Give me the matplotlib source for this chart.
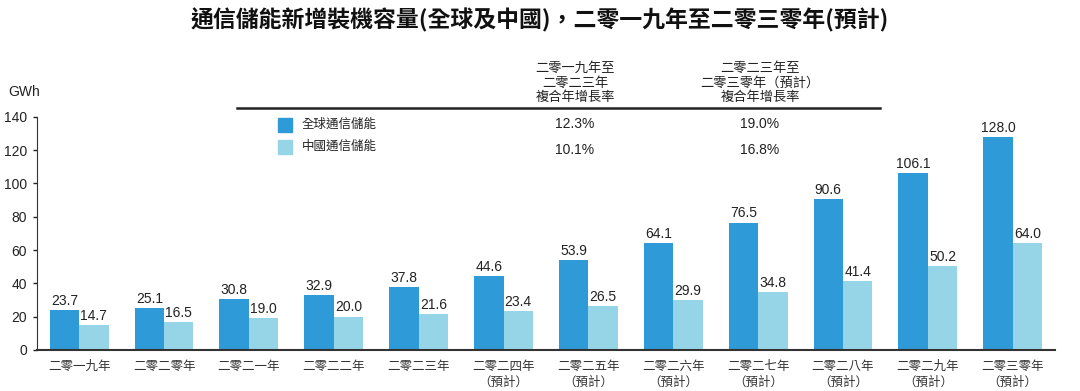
import numpy as np
import matplotlib as mpl
mpl.use('Agg')
import matplotlib.pyplot as plt

plt.rcParams['font.family'] = ['Liberation Sans', 'Noto Sans CJK TC', 'DejaVu Sans']

years = ['二零一九年', '二零二零年', '二零二一年', '二零二二年', '二零二三年',
         '二零二四年\n（預計）', '二零二五年\n（預計）', '二零二六年\n（預計）',
         '二零二七年\n（預計）', '二零二八年\n（預計）', '二零二九年\n（預計）',
         '二零三零年\n（預計）']
global_vals = [23.7, 25.1, 30.8, 32.9, 37.8, 44.6, 53.9, 64.1, 76.5, 90.6, 106.1, 128.0]
china_vals = [14.7, 16.5, 19.0, 20.0, 21.6, 23.4, 26.5, 29.9, 34.8, 41.4, 50.2, 64.0]
series_names = ['全球通信儲能', '中國通信儲能']
cagr_headers = ['二零一九年至\n二零二三年\n複合年增長率', '二零二三年至\n二零三零年（預計）\n複合年增長率']
cagr_global = ['12.3%', '19.0%']
cagr_china = ['10.1%', '16.8%']

c_blue = '#2E9AD7'
c_light = '#96D5E8'
txt = '#222222'

fig = plt.figure(figsize=(10.8, 3.91), dpi=100)
ax = fig.add_axes([0.034, 0.105, 0.943, 0.596])

x = np.arange(len(years))
w = 0.347
ax.bar(x - w/2, global_vals, w, color=c_blue)
ax.bar(x + w/2, china_vals, w, color=c_light)
for i in range(len(x)):
    ax.text(x[i] - w/2, global_vals[i] + 1.3, '%.1f' % global_vals[i], ha='center', va='bottom', fontsize=10, color=txt)
    ax.text(x[i] + w/2, china_vals[i] + 1.3, '%.1f' % china_vals[i], ha='center', va='bottom', fontsize=10, color=txt)

ax.set_xlim(-0.5, 11.5)
ax.set_ylim(0, 140)
ax.set_yticks(range(0, 141, 20))
ax.set_xticks(x)
ax.set_xticklabels(years, fontsize=9, color='#333333', linespacing=1.35)
ax.tick_params(axis='x', length=0, pad=8)
ax.tick_params(axis='y', length=3, width=1, labelsize=10, colors=txt, direction='out', pad=4)
for s in ['top', 'right']:
    ax.spines[s].set_visible(False)
ax.spines['left'].set_color('#333333')
ax.spines['bottom'].set_color('#333333')
ax.spines['bottom'].set_linewidth(1.5)

fig.text(8/1080, 1 - 92/391, 'GWh', fontsize=10, color=txt, va='center', ha='left')
fig.text(540/1080, 1 - 20/391, '通信儲能新增裝機容量(全球及中國)，二零一九年至二零三零年(預計)',
         fontsize=16.5, fontweight='bold', ha='center', va='center', color='#111111',
         family=['Noto Sans CJK TC', 'DejaVu Sans'])

# growth table
fig.add_artist(plt.Line2D([237/1080, 880/1080], [1 - 108/391, 1 - 108/391], color='#222222', lw=1.8))
for cx, h, g, c in zip([575, 760], cagr_headers, cagr_global, cagr_china):
    fig.text(cx/1080, 1 - 83/391, h, fontsize=9.5, ha='center', va='center', color=txt, linespacing=1.2)
    fig.text(cx/1080, 1 - 124/391, g, fontsize=10, ha='center', va='center', color=txt)
    fig.text(cx/1080, 1 - 150/391, c, fontsize=10, ha='center', va='center', color=txt)
for yy, name, col in zip([125, 147], series_names, [c_blue, c_light]):
    fig.add_artist(mpl.patches.Rectangle((278/1080, 1 - (yy + 7)/391), 14/1080, 14/391, color=col))
    fig.text(302/1080, 1 - yy/391, name, fontsize=9, ha='left', va='center', color=txt)

fig.savefig('out.png', dpi=100)
